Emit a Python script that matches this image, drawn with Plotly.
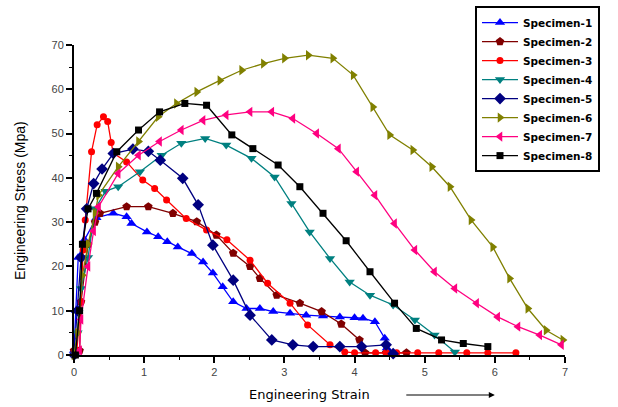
import plotly.graph_objects as go

# Engineering strain / stress data for each specimen
x1 = [0.0, 0.03, 0.06, 0.15, 0.32, 0.56, 0.75, 0.82, 1.04, 1.2, 1.33, 1.48, 1.68, 1.84, 1.98, 2.12, 2.27, 2.46, 2.65, 2.84, 3.08, 3.31, 3.55, 3.79, 4.0, 4.12, 4.29, 4.43, 4.46, 4.55]
y1 = [1, 10, 22, 26, 31, 32, 31.2, 29.7, 27.8, 26.7, 25.6, 24.4, 22.9, 21, 18.5, 15.4, 12, 10.5, 10.5, 9.8, 9.4, 9.0, 8.8, 8.6, 8.4, 8.3, 7.5, 3.8, 1.6, 0.4]

x2 = [0.0, 0.08, 0.1, 0.2, 0.3, 0.37, 0.75, 1.06, 1.41, 1.75, 2.03, 2.27, 2.51, 2.65, 2.89, 3.22, 3.53, 3.81, 4.07, 4.15, 4.45, 4.74]
y2 = [1, 1, 12, 25, 30, 32, 33.5, 33.5, 32, 30.1, 27.1, 23, 20, 17.3, 13.5, 11.7, 9.8, 7.0, 3.4, 0.5, 0.5, 0.5]

x3 = [0.04, 0.1, 0.13, 0.16, 0.25, 0.33, 0.42, 0.48, 0.53, 0.56, 0.75, 0.98, 1.15, 1.32, 1.6, 1.89, 2.18, 2.51, 2.76, 3.08, 3.33, 3.65, 3.86, 4.0, 4.3, 4.45, 4.6, 4.9, 5.2, 5.6, 5.9, 6.3]
y3 = [1, 12, 23.7, 30.5, 45.9, 52, 53.8, 52.7, 48, 45.6, 43.6, 39.5, 37.6, 35, 30.8, 28.2, 26, 21.4, 16.2, 11.7, 6.8, 2.3, 0.7, 0.5, 0.5, 0.5, 0.5, 0.5, 0.5, 0.5, 0.5, 0.5]

x4 = [0.02, 0.05, 0.1, 0.2, 0.3, 0.45, 0.63, 0.94, 1.25, 1.53, 1.87, 2.17, 2.53, 2.86, 3.1, 3.36, 3.65, 3.93, 4.22, 4.55, 4.86, 5.14, 5.43]
y4 = [0, 5, 15, 22, 33, 37, 38, 41.4, 45.1, 47.8, 48.9, 47.4, 44.4, 40.2, 34.2, 27.8, 21.8, 16.5, 13.5, 11.3, 7.9, 4.5, 0.7]

x5 = [0.0, 0.05, 0.1, 0.18, 0.28, 0.4, 0.56, 0.84, 1.06, 1.23, 1.55, 1.77, 1.98, 2.27, 2.51, 2.82, 3.12, 3.41, 3.79, 4.1, 4.45, 4.55]
y5 = [0, 10, 22, 33, 38.7, 42, 45.5, 46.5, 46, 44, 39.9, 33.9, 24.8, 16.9, 9, 3.4, 2.3, 1.9, 1.9, 1.9, 2.3, 0.3]

x6 = [0.0, 0.05, 0.12, 0.2, 0.3, 0.35, 0.63, 0.92, 1.2, 1.46, 1.75, 2.08, 2.39, 2.7, 3.0, 3.34, 3.69, 3.98, 4.26, 4.5, 4.83, 5.1, 5.36, 5.66, 5.97, 6.21, 6.47, 6.73, 6.97]
y6 = [0, 5, 18, 25, 32, 36.1, 42.5, 48.2, 53.8, 56.8, 59.4, 62, 64.3, 65.8, 67, 67.7, 67, 63.2, 56, 49.7, 46.3, 42.5, 38, 30.5, 24.4, 17.3, 10.5, 5.6, 3.4]

x7 = [0.08, 0.1, 0.2, 0.28, 0.35, 0.63, 0.92, 1.22, 1.53, 1.84, 2.17, 2.51, 2.82, 3.12, 3.46, 3.77, 4.03, 4.29, 4.57, 4.86, 5.14, 5.43, 5.74, 6.04, 6.33, 6.64, 6.95]
y7 = [1, 8, 20, 28, 33.5, 41, 45.1, 48.2, 50.8, 53, 54.2, 54.9, 54.9, 53.4, 50, 46.6, 41.4, 36.1, 29.7, 23.7, 18.8, 15, 11.7, 8.6, 6.4, 4.5, 2.3]

x8 = [0.02, 0.08, 0.12, 0.2, 0.32, 0.61, 0.92, 1.22, 1.58, 1.89, 2.25, 2.55, 2.91, 3.22, 3.55, 3.88, 4.22, 4.57, 4.88, 5.24, 5.55, 5.9]
y8 = [0, 10, 25, 33, 36.5, 45.9, 50.8, 54.9, 56.8, 56.4, 49.7, 46.6, 42.9, 38, 32, 25.8, 18.8, 11.7, 6, 3.4, 2.6, 1.9]

names = ["Specimen-1", "Specimen-2", "Specimen-3", "Specimen-4",
         "Specimen-5", "Specimen-6", "Specimen-7", "Specimen-8"]
xs = [x1, x2, x3, x4, x5, x6, x7, x8]
ys = [y1, y2, y3, y4, y5, y6, y7, y8]
colors = ["#0000FF", "#800000", "#FF0000", "#008080",
          "#000080", "#808000", "#FF0080", "#000000"]
symbols = ["triangle-up", "pentagon", "circle", "triangle-down",
           "diamond", "triangle-right", "triangle-left", "square"]
sizes = [9, 9, 7, 9, 9, 9, 9, 7]

fig = go.Figure()
for name, x, y, c, s, sz in zip(names, xs, ys, colors, symbols, sizes):
    fig.add_trace(go.Scatter(
        x=x, y=y, name=name, mode="lines+markers",
        line=dict(color=c, width=1.3),
        marker=dict(symbol=s, size=sz, color=c),
        cliponaxis=False,
    ))

axis_common = dict(
    showgrid=False, zeroline=False, showline=True, linecolor="black",
    linewidth=2, ticks="outside", ticklen=6, tickwidth=1.5, tickcolor="black",
    tickfont=dict(family="Arial", size=11, color="#444"),
    minor=dict(ticks="outside", ticklen=3, tickwidth=1, tickcolor="black"),
)

fig.update_xaxes(range=[0, 7], dtick=1, minor_dtick=0.5, **axis_common)
fig.update_yaxes(range=[0, 70], dtick=10, minor_dtick=5, **axis_common)

fig.update_layout(
    width=618, height=407,
    margin=dict(l=74, r=53, t=45, b=52, autoexpand=False),
    paper_bgcolor="white", plot_bgcolor="white",
    showlegend=True,
    legend=dict(
        xref="container", yref="container",
        x=0.7686, y=0.985, xanchor="left", yanchor="top",
        bordercolor="black", borderwidth=2, bgcolor="white",
        font=dict(family="DejaVu Sans", size=10.5, color="black", weight="bold"),
        itemwidth=36, tracegroupgap=0,
    ),
    annotations=[
        dict(text="Engineering Stress (Mpa)", xref="paper", yref="paper",
             x=-0.11, y=0.5, xanchor="center", yanchor="middle",
             textangle=-90, showarrow=False,
             font=dict(family="Arial", size=14, color="black")),
        dict(text="Engineering Strain", xref="paper", yref="paper",
             x=0.48, y=-0.127, xanchor="center", yanchor="middle",
             showarrow=False,
             font=dict(family="DejaVu Sans", size=13, color="black")),
        dict(text="", xref="paper", yref="paper",
             x=0.857, y=-0.129, ax=-90, ay=0, showarrow=True,
             arrowhead=2, arrowsize=1, arrowwidth=1.2, arrowcolor="black"),
    ],
)

fig.write_html("out.html")
